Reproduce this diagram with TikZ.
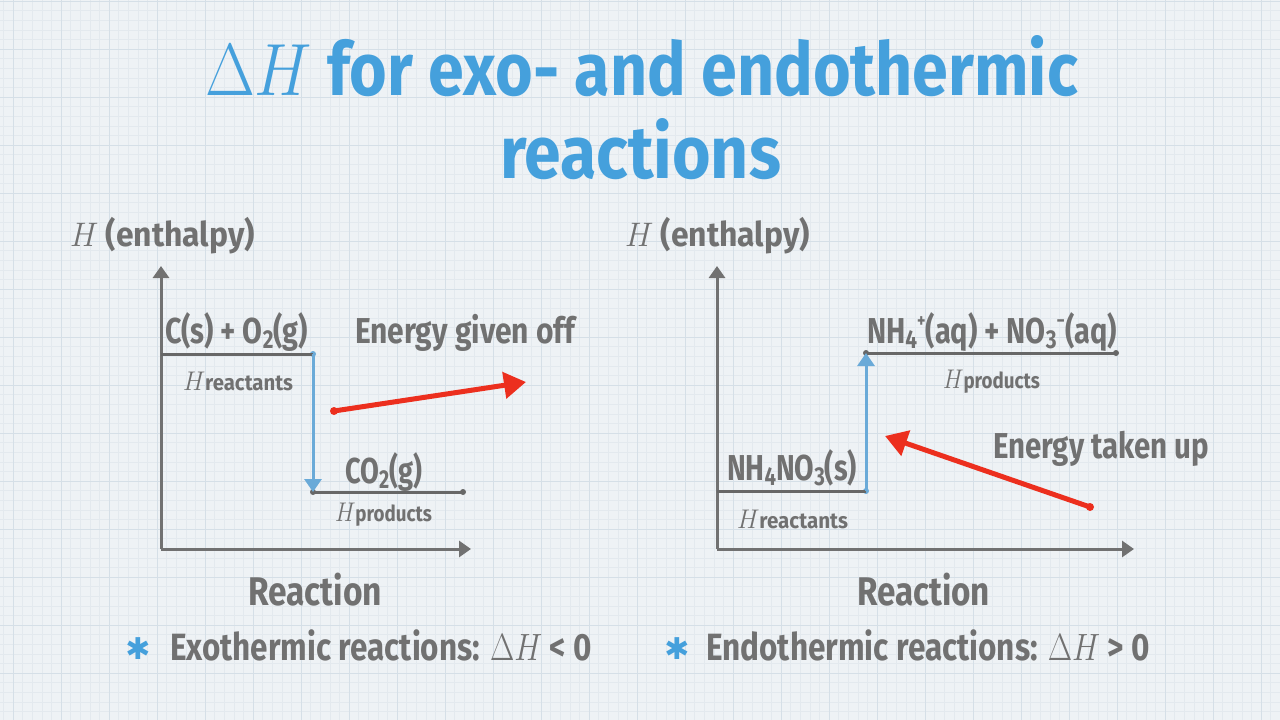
\RequirePackage{fix-cm}
\documentclass[tikz,border=0pt]{standalone}
\usepackage{fontspec}
\usepackage{graphicx}
\newfontfamily\hand{Fira Sans}
\newfontfamily\symf{DejaVu Sans}
\usetikzlibrary{arrows.meta}
\definecolor{bg}{HTML}{EEF2F5}
\definecolor{gminor}{HTML}{E3E9EE}
\definecolor{gmajor}{HTML}{D5DFE7}
\definecolor{ink}{HTML}{717171}
\definecolor{lvl}{HTML}{676767}
\definecolor{titleblue}{HTML}{45A0DC}
\definecolor{arrowblue}{HTML}{6AAAD8}
\definecolor{redarrow}{HTML}{EC2F1E}
\newcommand{\fitw}[2]{\resizebox{#1}{\height}{#2}}
\newcommand{\sbs}[1]{\raisebox{-0.16em}{\scalebox{0.72}{#1}}}
\newcommand{\sps}[1]{\raisebox{0.42em}{\scalebox{0.55}{#1}}}
\newcommand{\Hsub}[1]{{\fontsize{27}{28}\selectfont$H$}{\hand\bfseries\fontsize{22}{24}\selectfont #1}}
\tikzset{
  lab/.style={anchor=base west, inner sep=0pt, outer sep=0pt, text=ink,
    font=\hand\bfseries\fontsize{36}{40}\selectfont},
  ttl/.style={lab, text=titleblue, font=\hand\bfseries\fontsize{74}{80}\selectfont},
  yl/.style={lab, font=\hand\bfseries\fontsize{34}{38}\selectfont},
  rxn/.style={lab, font=\hand\bfseries\fontsize{40}{44}\selectfont},
  bul/.style={lab, font=\hand\bfseries\fontsize{38}{42}\selectfont},
  star/.style={anchor=center, inner sep=0pt, text=titleblue, font=\symf\bfseries\fontsize{30}{32}\selectfont},
  axis/.style={draw=ink, line width=3pt, -{Triangle[length=12pt,width=16pt]}},
  level/.style={draw=lvl, line width=3pt},
  dh/.style={draw=arrowblue, line width=3pt, -{Triangle[length=13pt,width=17pt]}},
  energy/.style={draw=redarrow, line width=5pt, -{Triangle[length=22pt,width=26pt]}},
  dotg/.style={circle, fill=lvl, inner sep=0pt, minimum size=6pt},
  dotb/.style={circle, fill=arrowblue, inner sep=0pt, minimum size=6pt},
  dotr/.style={circle, fill=redarrow, inner sep=0pt, minimum size=8pt},
}
\begin{document}
\begin{tikzpicture}[x=1pt,y=-1pt]
\useasboundingbox (0,0) rectangle (1280,720);
\fill[bg] (0,0) rectangle (1280,720);
% grid
\foreach \i in {0,...,134} {
  \draw[gminor, line width=0.5pt] ({13+9.6*(\i-2)},0) -- ({13+9.6*(\i-2)},720);
}
\foreach \i in {0,...,76} {
  \draw[gminor, line width=0.5pt] (0,{1+9.6*\i}) -- (1280,{1+9.6*\i});
}
\foreach \i in {0,...,27} {
  \draw[gmajor, line width=0.8pt] ({13+48*\i},0) -- ({13+48*\i},720);
}
\foreach \i in {0,...,15} {
  \draw[gmajor, line width=0.8pt] (0,{1+48*\i}) -- (1280,{1+48*\i});
}

% title
\node[ttl] (t1) at (205,95) {\fitw{873pt}{$\Delta H$ for exo- and endothermic}};
\node[ttl] (t2) at (500,178) {\fitw{281pt}{reactions}};

% ---------- left diagram ----------
\node[yl] (yl1) at (70,246) {\fitw{185pt}{$H$ (enthalpy)}};
\coordinate (o1) at (161,549);
\coordinate (yt1) at (161,266);
\coordinate (xe1) at (471,549);
\draw[axis] (o1) -- (yt1);
\draw[axis] (o1) -- (xe1);
\coordinate (r1s) at (161,354);
\node[dotb] (r1e) at (313,354) {};
\node[dotg] (p1s) at (313,492) {};
\node[dotg] (p1e) at (463,492) {};
\draw[level] (r1s) -- (r1e.center);
\draw[level] (p1s.center) -- (p1e.center);
\draw[dh] (r1e.center) -- (p1s.center);
\node[lab] (c1) at (165,343) {\fitw{143pt}{C(s) + O\sbs{2}(g)}};
\node[lab] (hr1) at (183,390) {\fitw{110pt}{\Hsub{reactants}}};
\node[lab] (co2) at (345,483) {\fitw{77pt}{CO\sbs{2}(g)}};
\node[lab] (hp1) at (335,521) {\fitw{97pt}{\Hsub{products}}};
\node[lab] (eg) at (355,343) {\fitw{220pt}{Energy given off}};
\node[dotr] (ea1) at (334,411) {};
\coordinate (eb1) at (526,382);
\draw[energy] (ea1.center) -- (eb1);
\node[rxn] (rx1) at (248,605) {\fitw{134pt}{Reaction}};
\node[star] (s1) at (138,649) {✱};
\node[bul] (b1) at (170,660) {\fitw{422pt}{Exothermic reactions: $\Delta H$ < 0}};

% ---------- right diagram ----------
\node[yl] (yl2) at (625,246) {\fitw{185pt}{$H$ (enthalpy)}};
\coordinate (o2) at (717,549);
\coordinate (yt2) at (717,266);
\coordinate (xe2) at (1134,549);
\draw[axis] (o2) -- (yt2);
\draw[axis] (o2) -- (xe2);
\coordinate (r2s) at (717,491);
\node[dotb] (r2e) at (866,491) {};
\node[dotg] (p2s) at (866,353) {};
\node[dotg] (p2e) at (1116,353) {};
\draw[level] (r2s) -- (r2e.center);
\draw[level] (p2s.center) -- (p2e.center);
\draw[dh] (r2e.center) -- (p2s.center);
\node[lab] (nh) at (867,343) {\fitw{250pt}{NH\sbs{4}\sps{+}(aq) + NO\sbs{3}\sps{\textminus}(aq)}};
\node[lab] (hp2) at (943,388) {\fitw{97pt}{\Hsub{products}}};
\node[lab] (nhs) at (727,480) {\fitw{130pt}{NH\sbs{4}NO\sbs{3}(s)}};
\node[lab] (hr2) at (737,528) {\fitw{111pt}{\Hsub{reactants}}};
\node[lab] (et) at (993,458) {\fitw{216pt}{Energy taken up}};
\node[dotr] (ea2) at (1090,507) {};
\coordinate (eb2) at (885,436);
\draw[energy] (ea2.center) -- (eb2);
\node[rxn] (rx2) at (857,605) {\fitw{133pt}{Reaction}};
\node[star] (s2) at (677,649) {✱};
\node[bul] (b2) at (706,660) {\fitw{444pt}{Endothermic reactions: $\Delta H$ > 0}};
\end{tikzpicture}
\end{document}
